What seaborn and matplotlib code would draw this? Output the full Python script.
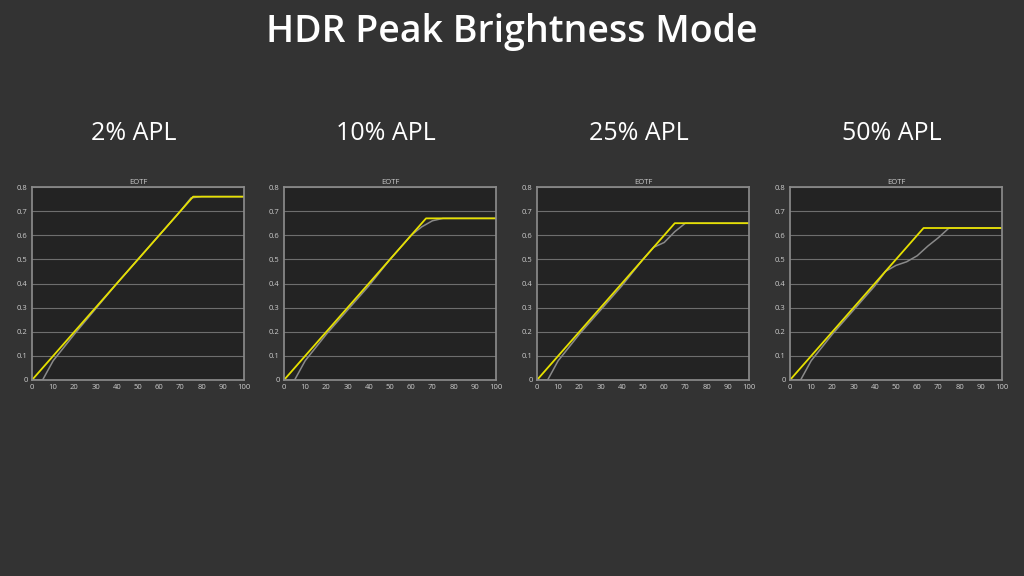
import matplotlib
matplotlib.use("Agg")
import matplotlib.pyplot as plt
import seaborn as sns

sns.set_theme(style="dark")
plt.rcParams["font.family"] = ["Open Sans", "DejaVu Sans"]

titles = ["2% APL", "10% APL", "25% APL", "50% APL"]
peaks = [0.76, 0.67, 0.65, 0.63]

measured_x = [
    [0, 5, 10, 20, 30, 40, 50, 60, 70, 75, 80, 90, 100],
    [0, 5, 10, 20, 30, 40, 50, 60, 65, 70, 75, 80, 90, 100],
    [0, 5, 10, 20, 30, 40, 50, 55, 60, 65, 70, 80, 90, 100],
    [0, 5, 10, 20, 30, 40, 45, 50, 55, 60, 65, 70, 75, 80, 90, 100],
]
measured_y = [
    [0, 0, 0.08, 0.19, 0.295, 0.4, 0.5, 0.6, 0.7, 0.755, 0.76, 0.76, 0.76],
    [0, 0, 0.08, 0.19, 0.29, 0.39, 0.5, 0.6, 0.635, 0.66, 0.67, 0.67, 0.67, 0.67],
    [0, 0, 0.08, 0.19, 0.29, 0.39, 0.5, 0.55, 0.57, 0.615, 0.65, 0.65, 0.65, 0.65],
    [0, 0, 0.08, 0.19, 0.29, 0.39, 0.45, 0.475, 0.49, 0.515, 0.555, 0.59, 0.63, 0.63, 0.63, 0.63],
]

bg = "#333333"
fig = plt.figure(figsize=(10.24, 5.76), dpi=100, facecolor=bg)
fig.text(0.5, 0.945, "HDR Peak Brightness Mode", color="white", fontsize=27,
         fontweight="semibold", ha="center", va="center")

lefts = [32, 284, 537, 790]
for i in range(4):
    ax = fig.add_axes([lefts[i] / 1024, 196 / 576, 212 / 1024, 193 / 576])
    ax.set_facecolor("#232323")
    pk = peaks[i]
    target_x = [0, pk * 100, 100]
    target_y = [0, pk, pk]
    sns.lineplot(x=measured_x[i], y=measured_y[i], ax=ax, color="#8a8a8a", lw=1.1)
    sns.lineplot(x=target_x, y=target_y, ax=ax, color="#e6e000", lw=1.3)
    ax.set_xlim(0, 100)
    ax.set_ylim(0, 0.8)
    ax.set_xticks(range(0, 101, 10))
    ax.set_yticks([0, 0.1, 0.2, 0.3, 0.4, 0.5, 0.6, 0.7, 0.8])
    ax.set_yticklabels(["0", "0.1", "0.2", "0.3", "0.4", "0.5", "0.6", "0.7", "0.8"])
    ax.grid(axis="y", color="#6e6e6e", lw=0.8)
    ax.grid(axis="x", visible=False)
    ax.tick_params(colors="#cccccc", labelsize=5.5, length=2, pad=1)
    for s in ax.spines.values():
        s.set_color("#8a8a8a")
    ax.set_title("EOTF", color="#cccccc", fontsize=5.5, pad=2)
    fig.text((lefts[i] + 102) / 1024, 1 - 133 / 576, titles[i], color="white",
             fontsize=18, ha="center", va="center")

fig.savefig("out.png", dpi=100, facecolor=bg)
